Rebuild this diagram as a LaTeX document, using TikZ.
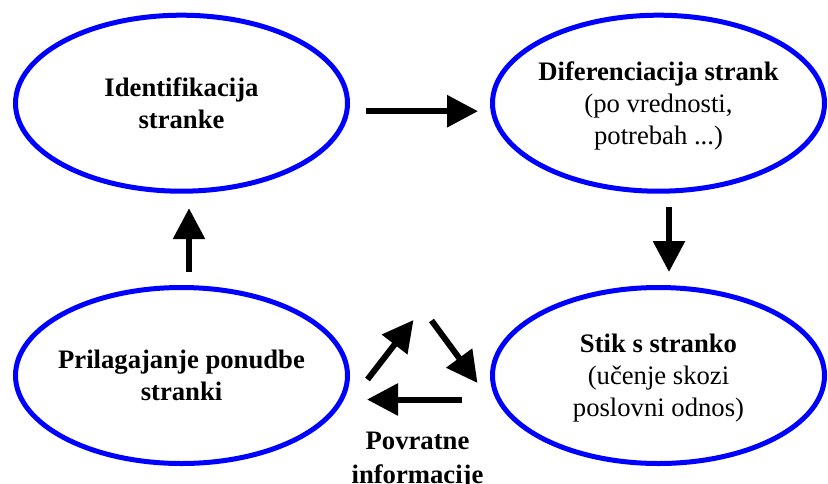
\documentclass[tikz,border=0pt]{standalone}
\usepackage{fontspec}
\setmainfont{Liberation Serif}
\usetikzlibrary{shapes.geometric,arrows.meta}

\tikzset{every picture/.style={line width=0.75pt}}
\tikzset{
  stage/.style={ellipse, draw={rgb, 255:red, 0; green, 0; blue, 255 }, line width=3.75pt,
    minimum width=249pt, minimum height=132pt, inner xsep=-6pt, inner ysep=0pt, outer sep=0pt,
    align=center, text depth=0pt, font=\fontsize{20}{24}\selectfont},
  flow/.style={color={rgb, 255:red, 0; green, 0; blue, 0 }, line width=4.5pt,
    -{Triangle[length=23.25pt,width=23.25pt]}},
  note/.style={inner sep=0pt, align=center, font=\fontsize{20}{25}\selectfont\bfseries},
}

\begin{document}
\begin{tikzpicture}[x=0.75pt,y=0.75pt,yscale=-1,xscale=1]
    \path[use as bounding box] (0,0) rectangle (828,483);

    % Ellipses
    \node[stage] (idn) at (181.5,103.2) {\textbf{Identifikacija}\\\textbf{stranke}};
    \node[stage] (dif) at (658.5,103.2) {\textbf{Diferenciacija strank}\\(po vrednosti,\\potrebah ...)};
    \node[stage] (stik) at (658.5,375.5) {\textbf{Stik s stranko}\\(učenje skozi\\poslovni odnos)};
    \node[stage] (pril) at (181.5,375.5) {\textbf{Prilagajanje ponudbe}\\\textbf{stranki}};

    %Straight Lines
    \draw[flow] ([shift={(18.5,8)}]idn.east) -- ([shift={(-14.5,8)}]dif.west);
    \draw[flow] ([shift={(10.5,16)}]dif.south) -- ([shift={(10.5,-15.5)}]stik.north);
    \draw[flow] ([shift={(-30.5,24)}]stik.west) -- ([shift={(19.5,24)}]pril.east);
    \draw[flow] ([shift={(7.5,-15.5)}]pril.north) -- ([shift={(7.5,17)}]idn.south);

    % Feedback loop
    \coordinate (fbA) at (367.5,379.5);
    \coordinate (fbB) at (413.5,320);
    \coordinate (fbC) at (431.5,320.5);
    \coordinate (fbD) at (477.5,383);
    \draw[flow] (fbA) -- (fbB);
    \draw[flow] (fbC) -- (fbD);

    % Text Node
    \node[note, anchor=north] (fb) at (417.5,432) {Povratne\\informacije};
\end{tikzpicture}
\end{document}
